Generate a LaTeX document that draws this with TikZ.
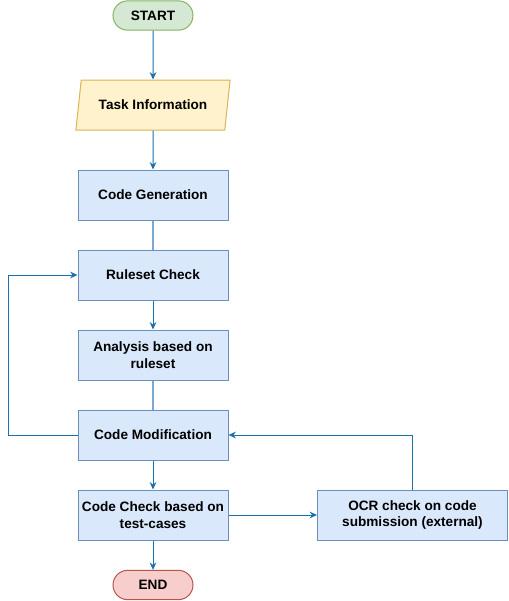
\documentclass[tikz,border=0pt]{standalone}
\usepackage{fontspec}
\setmainfont{Liberation Sans}
\usetikzlibrary{shapes.geometric,arrows.meta}
\definecolor{bfill}{HTML}{DAE8FC}
\definecolor{bdraw}{HTML}{6C8EBF}
\definecolor{gfill}{HTML}{D5E8D4}
\definecolor{gdraw}{HTML}{82B366}
\definecolor{yfill}{HTML}{FFF2CC}
\definecolor{ydraw}{HTML}{D6B656}
\definecolor{rfill}{HTML}{F8CECC}
\definecolor{rdraw}{HTML}{B85450}
\definecolor{edge}{HTML}{1A6FAE}
\definecolor{edgelight}{HTML}{7EA6D6}
\begin{document}
\begin{tikzpicture}[x=0.75pt,y=-0.75pt,
  every node/.style={font=\fontsize{10.2}{12.5}\selectfont\bfseries, align=center, inner sep=0pt, line width=0.75pt},
  procbox/.style={rectangle, draw=bdraw, fill=bfill, minimum width=112.5pt, minimum height=37.5pt},
  term/.style={rectangle, rounded corners=11pt, minimum width=60pt, minimum height=22pt},
  arr/.style={draw=edge, line width=0.75pt, -{Stealth[length=5.5pt,width=5pt]}},
  plain/.style={draw=edgelight, line width=1pt}
]
\useasboundingbox (0,0) rectangle (508,601);
\node[term, draw=gdraw, fill=gfill] (start) at (153,15.5) {START};
\node[trapezium, trapezium stretches=true, trapezium left angle=68, trapezium right angle=112, draw=ydraw, fill=yfill, minimum width=116pt, minimum height=37.5pt] (task) at (153,105) {Task Information};
\node[procbox] (gen) at (153,195) {Code Generation};
\node[procbox] (rule) at (153,275) {Ruleset Check};
\node[procbox] (ana) at (153,355) {Analysis based on\\ruleset};
\node[procbox] (mod) at (153,435) {Code Modification};
\node[procbox] (chk) at (153,515) {Code Check based on\\test-cases};
\node[procbox, minimum width=142.5pt] (ocr) at (412.5,515) {OCR check on code\\submission (external)};
\node[term, draw=rdraw, fill=rfill] (end) at (153,585) {END};
\coordinate (lc) at (8,435);
\coordinate (oc) at (412.5,435);

\draw[arr] (start) -- (task);
\draw[arr] (task) -- (gen);
\draw[plain] (gen) -- (rule);
\draw[arr] (rule) -- (ana);
\draw[plain] (ana) -- (mod);
\draw[arr] (mod) -- (chk);
\draw[arr] (chk) -- (end);
\draw[arr] (chk) -- (ocr);
\draw[arr] (ocr.north) -- (oc) -- (mod.east);
\draw[arr] (mod.west) -- (lc) |- (rule.west);
\end{tikzpicture}
\end{document}
